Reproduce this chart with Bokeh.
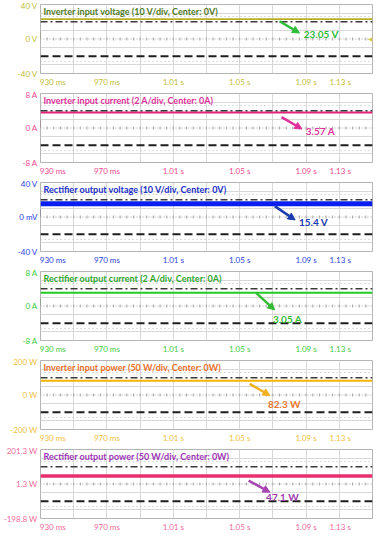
import numpy as np
from bokeh.plotting import figure
from bokeh.layouts import column
from bokeh.models import FixedTicker, Label, Arrow, NormalHead, Span, Grid
from bokeh.embed import file_html
from bokeh.resources import INLINE

# ---------------- data ----------------
time_ticks = [0.93, 0.97, 1.01, 1.05, 1.09, 1.13]
time_labels = ["930 ms", "970 ms", "1.01 s", "1.05 s", "1.09 s", "1.13 s"]
t_start, t_end = 0.93, 1.13

titles = [
    "Inverter input voltage (10 V/div, Center: 0V)",
    "Inverter input current (2 A/div, Center: 0A)",
    "Rectifier output voltage (10 V/div, Center: 0V)",
    "Rectifier output current (2 A/div, Center: 0A)",
    "Inverter input power (50 W/div, Center: 0W)",
    "Rectifier output power (50 W/div, Center: 0W)",
]
channels = ["C1", "C2", "C3", "C4", "F1", "F2"]
y_min = [-40, -8, -40, -8, -200, -198.8]
y_max = [40, 8, 40, 8, 200, 201.3]
y_center = [0, 0, 0, 0, 0, 1.3]
per_div = [10, 2, 10, 2, 50, 50]
y_tick_labels = [
    ["-40 V", "0 V", "40 V"],
    ["-8 A", "0 A", "8 A"],
    ["-40 V", "0 mV", "40 V"],
    ["-8 A", "0 A", "8 A"],
    ["-200 W", "0 W", "200 W"],
    ["-198.8 W", "1.3 W", "201.3 W"],
]
measured = [23.05, 3.57, 15.4, 3.05, 82.3, 47.1]
measured_labels = ["23.05 V", "3.57 A", "15.4 V", "3.05 A", "82.3 W", "47.1 W"]

# ---------------- styles ----------------
styles = [
    dict(title="#4f7a1e", tick="#c2bc3a", line="#b8b022", lw=1.6, arrow="#2dbb3a", val="#2dbb3a",
         badge="#c9c43a", arrow_xy=(1.074, 20.6, 1.086, 6.9), lab_xy=(1.0886, 5.7)),
    dict(title="#e0309a", tick="#ee4a8e", line="#e8207a", lw=2.0, arrow="#e0309c", val="#e0309c",
         badge="#d81e78", arrow_xy=(1.0752, 2.51, 1.0875, -0.23), lab_xy=(1.0898, -0.69)),
    dict(title="#1a2ec8", tick="#2a3ee0", line="#0a1ef0", lw=5.0, arrow="#1a3cb0", val="#1a3cb0",
         badge="#1020d0", arrow_xy=(1.0711, 12.6, 1.0834, -3.4), lab_xy=(1.0857, -5.7)),
    dict(title="#2fa62f", tick="#3ccc3c", line="#22cc22", lw=2.0, arrow="#33bb33", val="#33bb33",
         badge="#22cc22", arrow_xy=(1.060, 2.97, 1.0711, -0.91), lab_xy=(1.0700, -2.97)),
    dict(title="#e8702a", tick="#f0c040", line="#f5b400", lw=2.0, arrow="#f0b020", val="#e87830",
         badge="#f0c020", arrow_xy=(1.056, 64.8, 1.0682, -2.8), lab_xy=(1.067, -53.5)),
    dict(title="#9c34b4", tick="#ee6a9a", line="#e8306e", lw=3.5, arrow="#a844b4", val="#a040b0",
         badge="#e0507a", arrow_xy=(1.0554, 21.0, 1.0682, -46.6), lab_xy=(1.0659, -74.7)),
]

FONT = "Lato"
NB = "\u00a0"


def pad_label(i, lab):
    if i == 0:
        return NB * 12 + lab
    if i == len(time_ticks) - 1:
        return lab + NB * 12
    return lab


figs = []
for k in range(6):
    s = styles[k]
    c = y_center[k]
    d = per_div[k]
    p = figure(width=375, height=89, x_range=(t_start, t_end), y_range=(y_min[k], y_max[k]),
               output_backend="svg", toolbar_location=None,
               min_border_left=34, min_border_right=3, min_border_top=4, min_border_bottom=0)
    p.outline_line_color = "#b4b4b4"
    p.background_fill_color = "white"

    # axes
    p.xaxis.ticker = FixedTicker(ticks=time_ticks)
    p.xaxis.major_label_overrides = {t: pad_label(i, lab) for i, (t, lab) in enumerate(zip(time_ticks, time_labels))}
    p.yaxis.ticker = FixedTicker(ticks=[y_min[k], c, y_max[k]])
    p.yaxis.major_label_overrides = dict(zip([y_min[k], c, y_max[k]], y_tick_labels[k]))
    for ax in (p.xaxis[0], p.yaxis[0]):
        ax.axis_line_color = None
        ax.major_tick_line_color = None
        ax.minor_tick_line_color = None
        ax.major_tick_out = 0
        ax.major_tick_in = 0
        ax.minor_tick_out = 0
        ax.minor_tick_in = 0
        ax.major_label_text_color = s["tick"]
        ax.major_label_text_font = FONT
        ax.major_label_text_font_size = "8px"
        ax.major_label_standoff = 3

    # graticule
    p.xgrid.ticker = FixedTicker(ticks=[round(t_start + 0.02 * i, 2) for i in range(1, 10)])
    p.xgrid.grid_line_color = "#d8d8d8"
    p.ygrid.ticker = FixedTicker(ticks=[c - 3 * d, c - d, c + d, c + 3 * d])
    p.ygrid.grid_line_color = "#d8d8d8"
    p.add_layout(Grid(dimension=1, ticker=FixedTicker(ticks=[c - 2.6 * d, c + 2.6 * d]),
                      grid_line_color="#bdbdbd", grid_line_dash="1 3"))
    p.add_layout(Span(location=c, dimension="width", line_color="#a8a8a8", line_dash="1 2", line_width=1))
    tick_x = np.arange(t_start + 0.004, t_end, 0.004)
    p.scatter(x=tick_x, y=[c] * len(tick_x), marker="dash", angle=np.pi / 2, size=3,
              line_color="#a8a8a8", line_width=1)

    # cursors at +/- 2 div
    p.add_layout(Span(location=c + 2 * d, dimension="width", line_color="#3a3a3a",
                      line_dash="7 3 2 3", line_width=1.3))
    p.add_layout(Span(location=c - 2 * d, dimension="width", line_color="#1e1e1e",
                      line_dash="8 4", line_width=1.8))

    # signal
    p.line(x=[t_start, t_end], y=[measured[k], measured[k]], line_color=s["line"], line_width=s["lw"])

    # title
    p.add_layout(Label(x=t_start, y=y_max[k], x_offset=3, y_offset=-1, text=titles[k],
                       text_baseline="top", text_font=FONT, text_font_style="bold",
                       text_font_size="9px", text_color=s["title"]))

    # arrow and value label
    ax0, ay0, ax1, ay1 = s["arrow_xy"]
    p.add_layout(Arrow(end=NormalHead(size=7, fill_color=s["arrow"], line_color=s["arrow"]),
                       x_start=ax0, y_start=ay0, x_end=ax1, y_end=ay1,
                       line_color=s["arrow"], line_width=2.5))
    lx, ly = s["lab_xy"]
    p.add_layout(Label(x=lx, y=ly, text=measured_labels[k], text_baseline="middle",
                       text_font=FONT, text_font_style="bold", text_font_size="10px",
                       text_color=s["val"]))

    # channel badge
    p.add_layout(Label(x=t_start, y=c, x_offset=-5, y_offset=4, text=channels[k],
                       text_align="center", text_baseline="middle", text_font=FONT,
                       text_font_size="6px", text_color="#222222",
                       background_fill_color=s["badge"], border_line_color="#444444",
                       border_line_width=0.5, padding=1, border_radius=2))
    # trigger marker
    p.add_layout(Label(x=t_start, y=y_min[k], x_offset=-3, y_offset=-5, text="+",
                       text_align="center", text_baseline="middle", text_font=FONT,
                       text_font_size="7px", text_font_style="bold", text_color=s["tick"]))
    if k == 0:
        p.add_layout(Label(x=t_end, y=c, x_offset=-5, text="\u25c0", text_align="left",
                           text_baseline="middle", text_font_size="6px", text_color="#d4c84a"))
    figs.append(p)

layout = column(*figs, spacing=0)
open("out.html", "w").write(file_html(layout, INLINE))
